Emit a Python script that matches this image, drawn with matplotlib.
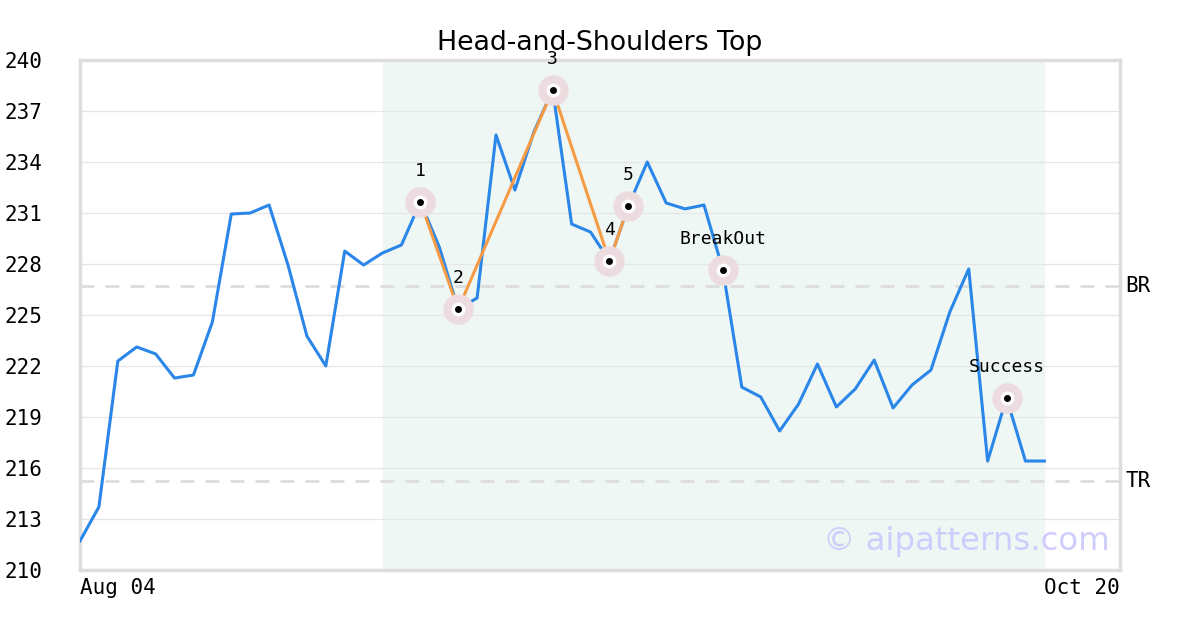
import numpy as np
import matplotlib.pyplot as plt

prices = [211.71, 213.71, 222.29, 223.12, 222.71, 221.29, 221.47, 224.59, 230.94, 231.0,
          231.47, 227.94, 223.76, 222.0, 228.76, 227.94, 228.65, 229.12, 231.65, 229.0,
          225.35, 226.0, 235.59, 232.35, 235.76, 238.24, 230.35, 229.88, 228.18, 231.41,
          234.0, 231.59, 231.24, 231.47, 227.65, 220.76, 220.18, 218.18, 219.76, 222.12,
          219.59, 220.65, 222.35, 219.53, 220.88, 221.76, 225.18, 227.71, 216.41, 220.12,
          216.41, 216.41]
pattern_idx = [18, 20, 25, 28, 29]
pattern_labels = ["1", "2", "3", "4", "5"]
event_idx = [34, 49]
event_labels = ["BreakOut", "Success"]
zone = (16, 51)
br_level = 226.7
tr_level = 215.25
x_labels = ["Aug 04", "Oct 20"]
n_days = 56

x = np.arange(len(prices))
y = np.array(prices)
mono = "DejaVu Sans Mono"

fig = plt.figure(figsize=(12, 6.3), dpi=100)
ax = fig.add_axes([80 / 1200, 60 / 630, 1040 / 1200, 510 / 630])

ax.axvspan(zone[0], zone[1], color="#eff7f4", zorder=0)
ax.grid(axis="y", color="#e6e6e6", linewidth=0.9, zorder=1)
ax.grid(axis="x", visible=False)

ax.axhline(br_level, color="#dddddd", linestyle=(0, (5, 4)), linewidth=2, zorder=1)
ax.axhline(tr_level, color="#dddddd", linestyle=(0, (5, 4)), linewidth=2, zorder=1)

ax.plot(x, y, color="#2a86e8", linewidth=2.2, zorder=3)
ax.plot(x[pattern_idx], y[pattern_idx], color="#f59b45", linewidth=2.2, zorder=4)

pts = pattern_idx + event_idx
labs = pattern_labels + event_labels
for i, lab in zip(pts, labs):
    ax.plot(x[i], y[i], "o", markersize=22, color="#eddcdf", markeredgewidth=0, zorder=5)
    ax.plot(x[i], y[i], "o", markersize=10, color="white", markeredgewidth=0, zorder=6)
    ax.plot(x[i], y[i], "o", markersize=5, color="black", markeredgewidth=0, zorder=7)
    ax.annotate(lab, (x[i], y[i]), xytext=(0, 22), textcoords="offset points",
                ha="center", va="center", fontsize=13, family=mono, zorder=8)

ax.text(0.99, 0.025, "© aipatterns.com", transform=ax.transAxes, ha="right", va="bottom",
        fontsize=23.3, color="#cfcdfc", zorder=9)

ax.set_xlim(0, n_days - 1)
ax.set_ylim(210, 240)
ax.set_yticks(np.arange(210, 241, 3))
ax.set_xticks([0, n_days - 1])
ax.set_xticklabels(x_labels, family=mono, fontsize=15)
xt = ax.get_xticklabels()
xt[0].set_horizontalalignment("left")
xt[1].set_horizontalalignment("right")
for lab in ax.get_yticklabels():
    lab.set_family(mono)
    lab.set_fontsize(15)
    lab.set_horizontalalignment("left")
ax.tick_params(axis="y", length=0, pad=54)
ax.tick_params(axis="x", length=0, pad=6)

for s in ax.spines.values():
    s.set_color("#dddddd")
    s.set_linewidth(2.5)

ax.text(1.005, br_level, "BR", transform=ax.get_yaxis_transform(), va="center", ha="left",
        family=mono, fontsize=15)
ax.text(1.005, tr_level, "TR", transform=ax.get_yaxis_transform(), va="center", ha="left",
        family=mono, fontsize=15)

ax.set_title("Head-and-Shoulders Top", fontsize=19.3, pad=7)

fig.savefig("out.png", dpi=100)
